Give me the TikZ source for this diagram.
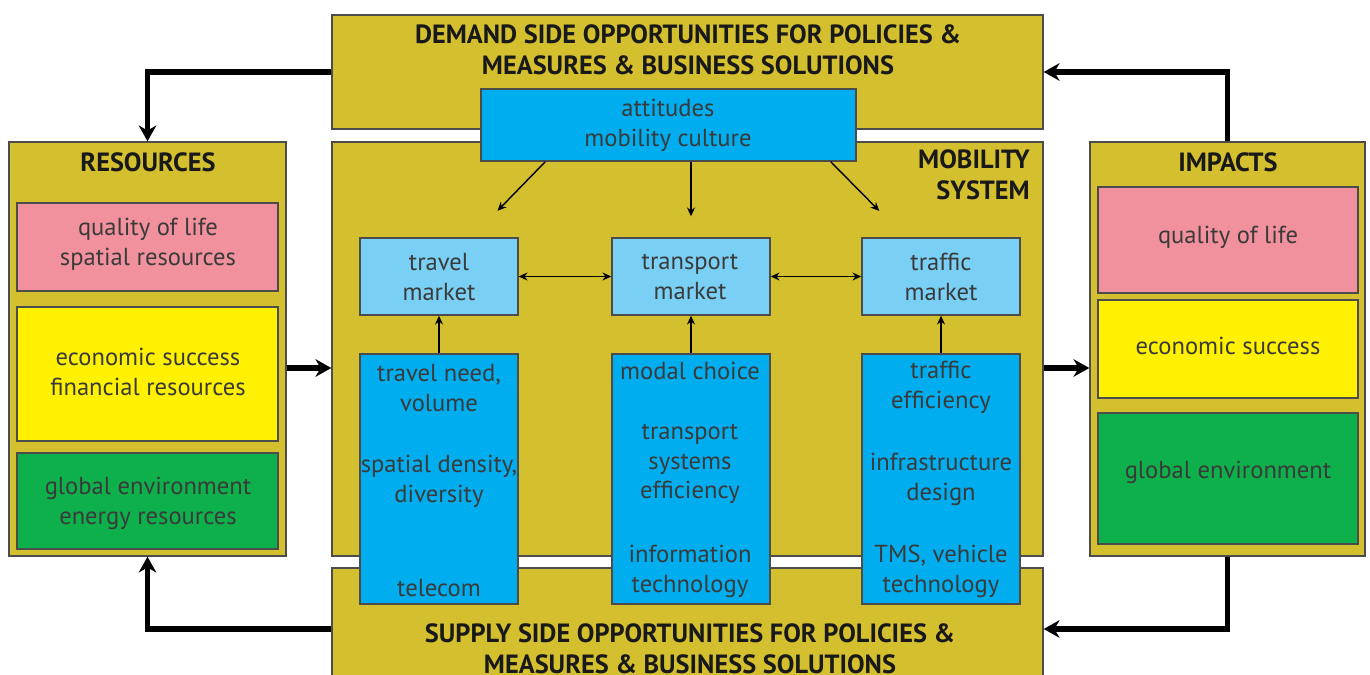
\documentclass[tikz,border=0pt]{standalone}
\usepackage{fontspec}
\setmainfont{PT Sans}
\usetikzlibrary{arrows.meta,fit}
\definecolor{goldbg}{HTML}{D4BF2E}
\definecolor{rosebox}{HTML}{F2919E}
\definecolor{yellowbox}{HTML}{FFF100}
\definecolor{greenbox}{HTML}{0DB04B}
\definecolor{bluebox}{HTML}{00AEEF}
\definecolor{lightblue}{HTML}{7ACFF5}
\definecolor{inktext}{HTML}{3A3A3A}
\tikzset{
  panel/.style={draw=black!70, line width=0.8pt, inner sep=0pt, fill=#1},
  heading/.style={font=\fontsize{15}{17.6}\selectfont\bfseries, text=black!90, align=center},
  body/.style={font=\fontsize{14}{17}\selectfont, text=inktext, align=center},
  bigarrow/.style={line width=3.2pt, -{Stealth[length=9pt,width=10pt]}},
  smallarrow/.style={line width=0.8pt, >={Stealth[length=5pt,width=4.5pt]}, ->},
}
\begin{document}
\begin{tikzpicture}[x=0.02cm,y=-0.02cm]
    \useasboundingbox (0,0) rectangle (1370,675);
    % outer frames
    \node[panel=goldbg, fit={(332,15) (1043,129)}] (demand) {};
    \node[panel=goldbg, fit={(332,142) (1043,556)}] (mobility) {};
    \node[panel=goldbg, fit={(332,568) (1043,690)}] (supply) {};
    \node[panel=goldbg, fit={(9,142) (286,556)}] (resources) {};
    \node[panel=goldbg, fit={(1090,142) (1365,556)}] (impacts) {};
    \node[heading] (demandtitle) at (688,50) {DEMAND SIDE OPPORTUNITIES FOR POLICIES \&\\MEASURES \& BUSINESS SOLUTIONS};
    \node[heading] (supplytitle) at (690,649) {SUPPLY SIDE OPPORTUNITIES FOR POLICIES \&\\MEASURES \& BUSINESS SOLUTIONS};
    \node[heading, align=right, anchor=east] (mobilitytitle) at (1036,175) {MOBILITY\\SYSTEM};
    \node[heading] (restitle) at (148,162) {RESOURCES};
    \node[heading] (imptitle) at (1228,162) {IMPACTS};
    % resources and impacts
    \node[panel=rosebox, fit={(17,203) (278,291)}] (resquality) {};
    \node[panel=yellowbox, fit={(17,307) (278,441)}] (reseconomy) {};
    \node[panel=greenbox, fit={(17,453) (278,549)}] (resenvironment) {};
    \node[body] (resqualitytext) at (148,244) {quality of life\\spatial resources};
    \node[body] (reseconomytext) at (148,372) {economic success\\financial resources};
    \node[body] (resenvironmenttext) at (148,503) {global environment\\energy resources};
    \node[panel=rosebox, fit={(1098,187) (1358,293)}] (impquality) {};
    \node[panel=yellowbox, fit={(1098,300) (1358,398)}] (impeconomy) {};
    \node[panel=greenbox, fit={(1098,413) (1358,544)}] (impenvironment) {};
    \node[body] (impqualitytext) at (1228,237) {quality of life};
    \node[body] (impeconomytext) at (1228,346) {economic success};
    \node[body] (impenvironmenttext) at (1228,472) {global environment};
    % mobility system
    \node[panel=bluebox, fit={(481,89) (856,161)}] (attitudes) {};
    \node[body] (attitudestext) at (668,125) {attitudes\\mobility culture};
    \node[panel=lightblue, fit={(360,238) (518,315)}] (travelmkt) {};
    \node[panel=lightblue, fit={(612,238) (770,315)}] (transportmkt) {};
    \node[panel=lightblue, fit={(862,238) (1020,315)}] (trafficmkt) {};
    \node[body] (travelmkttext) at (439,277) {travel\\market};
    \node[body] (transportmkttext) at (690,277) {transport\\market};
    \node[body] (trafficmkttext) at (941,277) {traffic\\market};
    \node[panel=bluebox, fit={(360,354) (518,604)}] (travelneed) {};
    \node[panel=bluebox, fit={(612,354) (770,604)}] (modalchoice) {};
    \node[panel=bluebox, fit={(862,354) (1020,604)}] (trafficeff) {};
    \node[body] (travelneedtop) at (439,388) {travel need,\\volume};
    \node[body] (travelneedmid) at (439,481) {spatial density,\\diversity};
    \node[body] (travelneedlow) at (439,588) {telecom};
    \node[body] (modaltop) at (690,371) {modal choice};
    \node[body] (modalmid) at (690,464) {transport\\systems\\efficiency};
    \node[body] (modallow) at (690,571) {information\\technology};
    \node[body] (traffictop) at (941,387) {traffic\\efficiency};
    \node[body] (trafficmid) at (941,479) {infrastructure\\design};
    \node[body] (trafficlow) at (941,571) {TMS, vehicle\\technology};
    % connectors
    \draw[smallarrow, shorten >=0.74cm] ([xshift=1.3cm]attitudes.south west) -- ([xshift=-0.94cm]travelmkt.north east);
    \draw[smallarrow, shorten >=0.42cm] (attitudes.south -| transportmkt.north) -- (transportmkt.north);
    \draw[smallarrow, shorten >=0.74cm] ([xshift=-0.52cm]attitudes.south east) -- ([xshift=0.88cm]trafficmkt.north west);
    \draw[smallarrow, <->] (travelmkt.east) -- (transportmkt.west);
    \draw[smallarrow, <->] (transportmkt.east) -- (trafficmkt.west);
    \draw[smallarrow] (travelneed.north) -- (travelmkt.south);
    \draw[smallarrow] (modalchoice.north) -- (transportmkt.south);
    \draw[smallarrow] (trafficeff.north) -- (trafficmkt.south);
    \coordinate (midrow) at (0,368);
    \draw[bigarrow] (demand.west) -| (resources.north);
    \draw[bigarrow] (impacts.north) |- (demand.east);
    \draw[bigarrow] (supply.west) -| (resources.south);
    \draw[bigarrow] (impacts.south) |- (supply.east);
    \draw[bigarrow] (resources.east |- midrow) -- (mobility.west |- midrow);
    \draw[bigarrow] (mobility.east |- midrow) -- (impacts.west |- midrow);
\end{tikzpicture}
\end{document}
